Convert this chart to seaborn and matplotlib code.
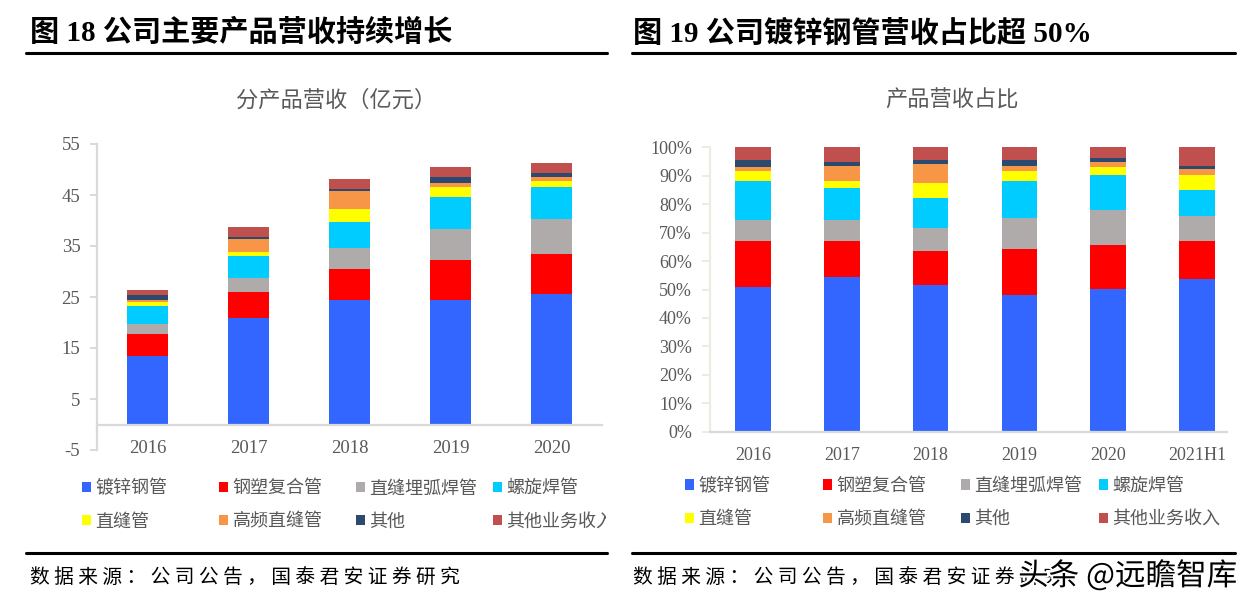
import matplotlib
matplotlib.use("Agg")
import matplotlib.pyplot as plt
import matplotlib.patheffects as pe
import seaborn as sns
import numpy as np
from matplotlib.patches import Patch
from matplotlib.lines import Line2D
from matplotlib.transforms import Bbox, TransformedBbox

sns.set_style("white")
plt.rcParams['font.family'] = ['Liberation Serif', 'Noto Sans CJK SC', 'DejaVu Sans']
plt.rcParams['axes.unicode_minus'] = False

# ---- data ----
products = ['镀锌钢管', '钢塑复合管', '直缝埋弧焊管', '螺旋焊管',
            '直缝管', '高频直缝管', '其他', '其他业务收入']
colors = ['#3366FF', '#FF0000', '#AFABAB', '#00CCFF',
          '#FFFF00', '#F79646', '#2C4A70', '#C0504D']

years_rev = ['2016', '2017', '2018', '2019', '2020']
galv_rev = [13.45, 20.9, 24.5, 24.5, 25.65]
plastic_rev = [4.35, 5.15, 5.9, 7.85, 7.85]
lsaw_rev = [1.95, 2.75, 4.3, 5.9, 6.7]
spiral_rev = [3.55, 4.3, 5.1, 6.3, 6.3]
straight_rev = [0.8, 0.8, 2.4, 1.95, 1.2]
hf_rev = [0.4, 2.4, 3.5, 0.8, 0.8]
other_rev = [0.8, 0.4, 0.4, 1.2, 0.8]
otherbiz_rev = [1.1, 1.95, 2.0, 1.95, 1.95]

years_pct = ['2016', '2017', '2018', '2019', '2020', '2021H1']
galv_pct = [50.8, 54.3, 51.5, 48.0, 50.1, 53.6]
plastic_pct = [16.1, 12.6, 11.9, 16.1, 15.4, 13.3]
lsaw_pct = [7.7, 7.7, 8.4, 11.2, 12.6, 9.1]
spiral_pct = [13.4, 11.2, 10.5, 12.7, 12.0, 9.1]
straight_pct = [3.5, 2.2, 5.0, 3.5, 2.8, 5.0]
hf_pct = [1.4, 5.6, 7.0, 2.1, 2.1, 2.1]
other_pct = [2.8, 1.4, 1.4, 2.1, 1.4, 1.4]
otherbiz_pct = [4.3, 5.0, 4.3, 4.3, 3.6, 6.4]

rev_series = [galv_rev, plastic_rev, lsaw_rev, spiral_rev,
              straight_rev, hf_rev, other_rev, otherbiz_rev]
pct_series = [galv_pct, plastic_pct, lsaw_pct, spiral_pct,
              straight_pct, hf_pct, other_pct, otherbiz_pct]

W, H = 1253, 609
fig = plt.figure(figsize=(W / 100, H / 100), dpi=100)
TXT = '#595959'
AXC = '#D9D9D9'


def stacked(ax, years, series):
    cum = np.cumsum(np.array(series), axis=0)
    # draw tallest stack first, then overlay the lower layers
    for k in range(len(series) - 1, -1, -1):
        sns.barplot(x=years, y=cum[k], color=colors[k], width=0.4,
                    saturation=1, errorbar=None, linewidth=0, ax=ax)


# ---- left chart ----
axL = fig.add_axes([97 / W, 1 - 450 / H, (602 - 97) / W, (450 - 144) / H])
stacked(axL, years_rev, rev_series)
axL.set_xlim(-0.5, 4.5)
axL.set_ylim(-5, 55)
axL.set_yticks(np.arange(-5, 56, 10))
axL.spines['bottom'].set_position(('data', 0))
for s in ['top', 'right']:
    axL.spines[s].set_visible(False)
for s in ['left', 'bottom']:
    axL.spines[s].set_color(AXC)
    axL.spines[s].set_linewidth(1.6)
axL.tick_params(axis='y', length=5, width=1.4, color=AXC, pad=7,
                labelsize=13.5, labelcolor=TXT, left=True)
axL.tick_params(axis='x', length=0, pad=11, labelsize=13.5, labelcolor=TXT)
axL.set_xlabel('')
axL.set_ylabel('')

# ---- right chart ----
axR = fig.add_axes([710 / W, 1 - 431.7 / H, (1227 - 710) / W, (431.7 - 147.3) / H])
stacked(axR, years_pct, pct_series)
axR.set_xlim(-0.484, 5.338)
axR.set_ylim(0, 100)
axR.set_yticks(np.arange(0, 101, 10))
axR.set_yticklabels([f'{v}%' for v in range(0, 101, 10)])
for s in ['top', 'right']:
    axR.spines[s].set_visible(False)
axR.spines['left'].set_color('#EEECE1')
axR.spines['left'].set_linewidth(1.6)
axR.spines['bottom'].set_color(AXC)
axR.spines['bottom'].set_linewidth(1.6)
axR.tick_params(axis='y', length=6, width=1.4, color='#EEECE1', pad=7,
                labelsize=13, labelcolor=TXT, left=True)
axR.tick_params(axis='x', length=0, pad=11, labelsize=13, labelcolor=TXT)
axR.set_xlabel('')
axR.set_ylabel('')

# ---- titles ----
fig.text(30 / W, 1 - 33 / H, '图 18 公司主要产品营收持续增长', fontsize=21,
         fontweight='bold', va='center', ha='left', color='black')
fig.text(633 / W, 1 - 33 / H, '图 19 公司镀锌钢管营收占比超 50%', fontsize=21,
         fontweight='bold', va='center', ha='left', color='black')
fig.text(336 / W, 1 - 100 / H, '分产品营收（亿元）', fontsize=16, color=TXT,
         ha='center', va='center', family=['Noto Sans CJK SC'])
fig.text(952 / W, 1 - 100 / H, '产品营收占比', fontsize=16, color=TXT,
         ha='center', va='center', family=['Noto Sans CJK SC'])

for x0, x1 in [(26, 607), (632, 1235)]:
    for y in [53, 553]:
        fig.add_artist(Line2D([x0 / W, x1 / W], [1 - y / H, 1 - y / H],
                              color='black', lw=2.2, transform=fig.transFigure))

src = ' '.join('数据来源：公司公告，国泰君安证券研究')
fig.text(30 / W, 1 - 577 / H, src, fontsize=14.2, color='black', va='center',
         family=['Noto Sans CJK SC'])
fig.text(633 / W, 1 - 577 / H, src, fontsize=14.2, color='black', va='center',
         family=['Noto Sans CJK SC'])

# watermark
wm = fig.text(1237 / W, 1 - 576 / H, '头条 @远瞻智库', fontsize=22, color='black',
              ha='right', va='center', family=['Noto Sans CJK SC'])
wm.set_path_effects([pe.withStroke(linewidth=3, foreground='white')])

# ---- legends ----
handles = [Patch(facecolor=c, edgecolor='none') for c in colors]


def legends(xs, rows, clip_right=None):
    yc = 1 - (rows[0] + rows[1]) / 2 / H
    for j, x in enumerate(xs):
        leg = fig.legend(handles=[handles[j], handles[j + 4]],
                         labels=[products[j], products[j + 4]],
                         loc='center left', bbox_to_anchor=(x / W, yc),
                         frameon=False, borderpad=0, borderaxespad=0,
                         handlelength=0.5, handleheight=0.5, handletextpad=0.25,
                         labelspacing=0.85, prop={'family': 'Noto Sans CJK SC', 'size': 13})
        for t in leg.get_texts():
            t.set_color(TXT)
            if clip_right is not None:
                t.set_clip_box(TransformedBbox(Bbox([[0, 0], [clip_right / W, 1]]),
                                               fig.transFigure))
                t.set_clip_on(True)


legends([82, 219, 356, 493], [489, 521], clip_right=606)
legends([685, 823, 961, 1099], [486, 519])

fig.savefig('out.png', dpi=100)
